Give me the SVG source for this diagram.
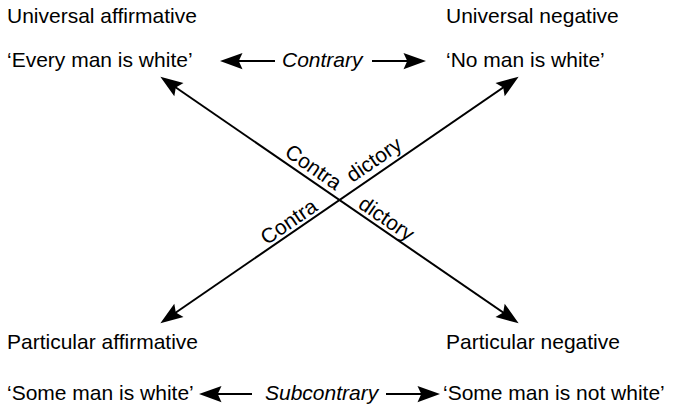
<svg xmlns="http://www.w3.org/2000/svg" width="673" height="408" viewBox="0 0 673 408">
<style>
text{font-family:"Liberation Sans",Arial,sans-serif;font-size:21px;fill:#000}
.it{font-style:italic}
.ln{stroke:#000;stroke-width:2;fill:none}
</style>
<defs>
<marker id="ah" markerUnits="userSpaceOnUse" markerWidth="30" markerHeight="30" refX="10" refY="0" orient="auto-start-reverse" viewBox="-2 -10 24 20" overflow="visible">
<path d="M0,-6.5 L18,0 L0,6.5 L3,0 z" fill="#000"/>
</marker>
</defs>
<g id="ua"><text x="7" y="23">Universal affirmative</text><text x="7" y="67">‘Every man is white’</text></g>
<g id="un"><text x="446" y="23">Universal negative</text><text x="446" y="67">‘No man is white’</text></g>
<g id="pa"><text x="7" y="349">Particular affirmative</text><text x="7" y="400">‘Some man is white’</text></g>
<g id="pn"><text x="446" y="349">Particular negative</text><text x="443" y="400">‘Some man is not white’</text></g>
<g id="contrary"><text class="it" x="282" y="67">Contrary</text></g>
<g id="subcontrary"><text class="it" x="265" y="400">Subcontrary</text></g>
<g id="connectors">
<line class="ln" x1="275" y1="61" x2="230" y2="61" marker-end="url(#ah)"/>
<line class="ln" x1="372" y1="61" x2="416" y2="61" marker-end="url(#ah)"/>
<line class="ln" x1="252" y1="394" x2="209" y2="394" marker-end="url(#ah)"/>
<line class="ln" x1="386" y1="394" x2="430" y2="394" marker-end="url(#ah)"/>
<line class="ln" x1="168.6" y1="82.5" x2="510.4" y2="317.5" marker-start="url(#ah)" marker-end="url(#ah)"/>
<line class="ln" x1="510.4" y1="82.5" x2="168.6" y2="317.5" marker-start="url(#ah)" marker-end="url(#ah)"/>
</g>
<g id="contradictory">
<g transform="translate(340,200) rotate(34.5)"><text x="-9" y="-5" text-anchor="end">Contra</text><text x="18" y="-4">dictory</text></g>
<g transform="translate(340,200) rotate(-34.5)"><text x="-23" y="-4" text-anchor="end">Contra</text><text x="20" y="-7">dictory</text></g>
</g>
</svg>
